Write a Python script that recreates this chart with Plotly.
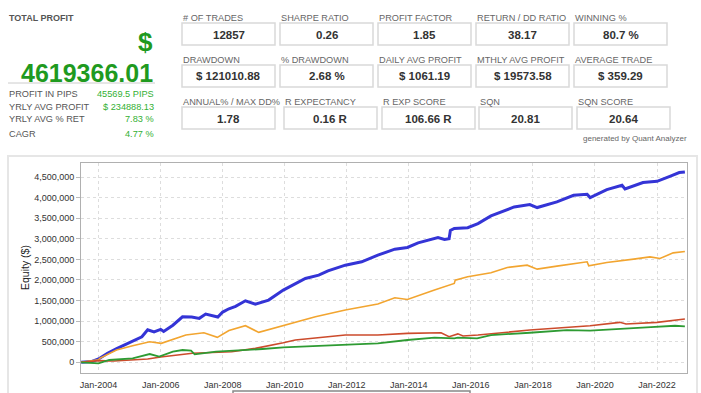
import plotly.graph_objects as go

# ---------------- data ----------------
blue_dates = ["2003-06-10", "2003-10-15", "2004-01-01", "2004-04-15", "2004-08-01", "2005-01-01",
              "2005-05-25", "2005-08-01", "2005-10-15", "2006-01-01", "2006-02-05", "2006-05-25",
              "2006-09-15", "2007-01-01", "2007-04-01", "2007-06-15", "2007-08-25", "2007-11-05",
              "2008-01-01", "2008-03-15", "2008-06-01", "2008-09-25", "2009-01-20", "2009-06-25",
              "2009-12-15", "2010-09-01", "2011-02-05", "2011-05-25", "2011-12-15", "2012-06-25",
              "2013-01-01", "2013-07-20", "2013-12-15", "2014-04-20", "2014-12-10", "2015-02-25",
              "2015-04-20", "2015-05-05", "2015-06-20", "2015-11-25", "2016-03-25", "2016-08-25",
              "2017-05-25", "2017-11-25", "2018-02-20", "2018-10-10", "2019-04-25", "2019-10-01",
              "2019-11-05", "2020-05-20", "2020-11-15", "2020-12-20", "2021-07-20", "2022-01-01",
              "2022-06-01", "2022-09-20", "2022-11-25"]
blue_vals = [0, 20000, 80000, 220000, 330000, 480000,
             620000, 790000, 740000, 800000, 750000, 900000,
             1105000, 1100000, 1067000, 1170000, 1130000, 1100000,
             1220000, 1300000, 1360000, 1494000, 1413000, 1511000,
             1753000, 2036000, 2117000, 2221000, 2359000, 2440000,
             2602000, 2747000, 2788000, 2900000, 3030000, 2982000,
             3000000, 3200000, 3249000, 3270000, 3370000, 3555000,
             3773000, 3831000, 3758000, 3894000, 4057000, 4081000,
             4001000, 4195000, 4299000, 4210000, 4365000, 4396000,
             4517000, 4607000, 4619366]

orange_dates = ["2003-06-10", "2004-01-01", "2004-01-15", "2004-07-30", "2005-02-05", "2005-08-25",
                "2006-01-08", "2006-10-25", "2007-05-25", "2007-10-30", "2008-03-15", "2008-09-25",
                "2009-03-01", "2009-12-15", "2010-12-28", "2011-12-15", "2013-01-01", "2013-07-20",
                "2013-12-15", "2014-10-30", "2015-06-20", "2015-07-01", "2015-11-25", "2016-08-25",
                "2017-03-05", "2017-10-25", "2018-02-20", "2018-10-10", "2019-10-01", "2019-10-20",
                "2020-05-20", "2021-04-01", "2021-10-10", "2022-02-05", "2022-07-10", "2022-11-25"]
orange_vals = [0, 60000, 97000, 298000, 400000, 500000,
               460000, 662000, 718000, 606000, 770000, 888000,
               727000, 888000, 1106000, 1268000, 1414000, 1567000,
               1527000, 1753000, 1915000, 1996000, 2076000, 2173000,
               2303000, 2359000, 2262000, 2335000, 2440000, 2343000,
               2424000, 2505000, 2561000, 2521000, 2658000, 2690000]

red_dates = ["2003-06-10", "2004-01-01", "2004-07-01", "2005-02-05", "2005-08-01", "2006-01-01",
             "2007-01-10", "2008-04-15", "2009-01-20", "2009-12-15", "2010-05-05", "2011-12-15",
             "2013-01-01", "2013-12-15", "2015-01-15", "2015-04-20", "2015-08-01", "2015-10-01",
             "2016-03-25", "2017-11-25", "2019-11-05", "2020-10-20", "2021-01-01", "2022-01-01",
             "2022-11-25"]
red_vals = [0, 40000, 30000, 50000, 80000, 130000,
            218000, 257000, 339000, 475000, 541000, 662000,
            662000, 703000, 718000, 621000, 690000, 638000,
            662000, 783000, 888000, 970000, 929000, 970000,
            1050000]

green_dates = ["2003-06-10", "2004-01-01", "2004-05-05", "2005-02-05", "2005-08-25", "2005-12-15",
               "2006-05-25", "2006-09-15", "2006-12-25", "2007-02-05", "2007-10-15", "2008-04-15",
               "2009-04-15", "2009-12-15", "2011-12-15", "2013-01-01", "2013-12-15", "2014-10-30",
               "2015-06-20", "2015-08-01", "2016-03-15", "2016-08-25", "2017-11-25", "2019-02-05",
               "2019-11-05", "2020-11-25", "2021-10-20", "2022-08-01", "2022-11-25"]
green_vals = [0, -24000, 56000, 97000, 201000, 137000,
              257000, 298000, 282000, 193000, 257000, 273000,
              323000, 363000, 420000, 460000, 541000, 597000,
              581000, 597000, 581000, 662000, 718000, 783000,
              767000, 824000, 856000, 888000, 870000]

y_ticks = [0, 500000, 1000000, 1500000, 2000000, 2500000, 3000000, 3500000, 4000000, 4500000]
x_ticks = ["2004-01-01", "2006-01-01", "2008-01-01", "2010-01-01", "2012-01-01", "2014-01-01",
           "2016-01-01", "2018-01-01", "2020-01-01", "2022-01-01"]

total_profit = "4619366.01"
side_labels = ["PROFIT IN PIPS", "YRLY AVG PROFIT", "YRLY AVG % RET", "CAGR"]
side_values = ["45569.5 PIPS", "$ 234888.13", "7.83 %", "4.77 %"]

metric_labels = [["# OF TRADES", "SHARPE RATIO", "PROFIT FACTOR", "RETURN / DD RATIO", "WINNING %"],
                 ["DRAWDOWN", "% DRAWDOWN", "DAILY AVG PROFIT", "MTHLY AVG PROFIT", "AVERAGE TRADE"],
                 ["ANNUAL% / MAX DD%", "R EXPECTANCY", "R EXP SCORE", "SQN", "SQN SCORE"]]
metric_values = [["12857", "0.26", "1.85", "38.17", "80.7 %"],
                 ["$ 121010.88", "2.68 %", "$ 1061.19", "$ 19573.58", "$ 359.29"],
                 ["1.78", "0.16 R", "106.66 R", "20.81", "20.64"]]

# ---------------- layout helpers ----------------
W, H = 701, 393
L, R, T, B = 81, 687, 163, 373


def px(x):
    return (x - L) / (R - L)


def py(y):
    return (B - y) / (B - T)


FONT = "Arial, Liberation Sans, sans-serif"

fig = go.Figure()
series = [
    (blue_dates, blue_vals, "#3434d6", 3.0),
    (orange_dates, orange_vals, "#f2a530", 1.6),
    (red_dates, red_vals, "#cc4b2c", 1.6),
    (green_dates, green_vals, "#2e9b33", 1.8),
]
for d, v, c, w in series:
    fig.add_trace(go.Scatter(x=d, y=v, mode="lines", line=dict(color=c, width=w),
                             hoverinfo="skip", showlegend=False))

shapes = []
annotations = []

# chart container
shapes.append(dict(type="rect", xref="paper", yref="paper", x0=px(8), x1=px(697), y0=py(156), y1=py(400),
                   line=dict(color="#e6e6e6", width=2), fillcolor="rgba(0,0,0,0)", layer="below"))
# navigator strip at bottom
shapes.append(dict(type="rect", xref="paper", yref="paper", x0=px(233), x1=px(470), y0=py(391), y1=py(398),
                   line=dict(color="#888888", width=1.5), fillcolor="rgba(0,0,0,0)"))

# top-left block
annotations.append(dict(text="<b>TOTAL PROFIT</b>", x=px(7), y=py(18), xanchor="left", yanchor="middle",
                        font=dict(family=FONT, size=9, color="#555555")))
annotations.append(dict(text="<b>$</b>", x=px(155), y=py(42), xanchor="right", yanchor="middle",
                        font=dict(family=FONT, size=26, color="#1f9a1f")))
annotations.append(dict(text="<b>" + total_profit + "</b>", x=px(155), y=py(73), xanchor="right",
                        yanchor="middle", font=dict(family=FONT, size=25, color="#1f9a1f")))
shapes.append(dict(type="line", xref="paper", yref="paper", x0=px(8), x1=px(155), y0=py(83), y1=py(83),
                   line=dict(color="#cccccc", width=1)))
for i, (lab, val) in enumerate(zip(side_labels, side_values)):
    yy = [93.5, 106.5, 119, 133.5][i]
    annotations.append(dict(text=lab, x=px(7), y=py(yy), xanchor="left", yanchor="middle",
                            font=dict(family=FONT, size=9.2, color="#555555")))
    annotations.append(dict(text=val, x=px(156), y=py(yy), xanchor="right", yanchor="middle",
                            font=dict(family=FONT, size=9.2, color="#33b033")))

# metric boxes
row_box_top = [23, 65, 107]
row_lefts = [[182, 280, 378, 476, 574],
             [182, 280, 378, 476, 574],
             [182, 284, 382, 479, 577]]
BW, BH = 93, 22
for r in range(3):
    for c in range(5):
        x0 = row_lefts[r][c]
        y0 = row_box_top[r]
        shapes.append(dict(type="rect", xref="paper", yref="paper", x0=px(x0), x1=px(x0 + BW),
                           y0=py(y0), y1=py(y0 + BH), line=dict(color="#d9d9d9", width=1.5),
                           fillcolor="white"))
        annotations.append(dict(text=metric_labels[r][c], x=px(x0 - 1), y=py(y0 - 5), xanchor="left",
                                yanchor="middle", font=dict(family=FONT, size=9.2, color="#666666")))
        annotations.append(dict(text="<b>" + metric_values[r][c] + "</b>", x=px(x0 + BW / 2),
                                y=py(y0 + BH / 2 + 0.5), xanchor="center", yanchor="middle",
                                font=dict(family=FONT, size=11.5, color="#333333")))

annotations.append(dict(text="generated by Quant Analyzer", x=px(689), y=py(138.5), xanchor="right",
                        yanchor="middle", font=dict(family=FONT, size=8, color="#666666")))

# y axis title
annotations.append(dict(text="Equity ($)", x=px(25), y=py(268), xanchor="center", yanchor="middle",
                        textangle=-90, font=dict(family=FONT, size=10.5, color="#222222")))

for a in annotations:
    a.setdefault("xref", "paper")
    a.setdefault("yref", "paper")
    a["showarrow"] = False

fig.update_layout(
    width=W, height=H,
    margin=dict(l=L, r=W - R, t=T, b=H - B, pad=0, autoexpand=False),
    paper_bgcolor="white", plot_bgcolor="white",
    shapes=shapes, annotations=annotations,
    showlegend=False,
    xaxis=dict(type="date", range=["2003-06-08", "2022-12-20"], tickvals=x_ticks, tickformat="%b-%Y",
               automargin=False,
               showgrid=True, gridcolor="#dddddd", griddash="dot", gridwidth=1,
               showline=True, linecolor="#b0b0b0", linewidth=1, mirror=True,
               ticks="outside", ticklen=3, tickcolor="rgba(0,0,0,0)",
               tickfont=dict(family=FONT, size=9, color="#333333"), zeroline=False),
    yaxis=dict(range=[-260000, 4840000], tickvals=y_ticks, tickformat=",",
               automargin=False,
               showgrid=True, gridcolor="#dddddd", griddash="dot", gridwidth=1,
               showline=True, linecolor="#b0b0b0", linewidth=1, mirror=True,
               ticks="outside", ticklen=4, tickcolor="#bbbbbb",
               tickfont=dict(family=FONT, size=9, color="#333333"), zeroline=False),
)

fig.write_html("out.html", config={"displayModeBar": False},
               post_script="document.body.style.margin='0';document.body.style.overflow='hidden';")
